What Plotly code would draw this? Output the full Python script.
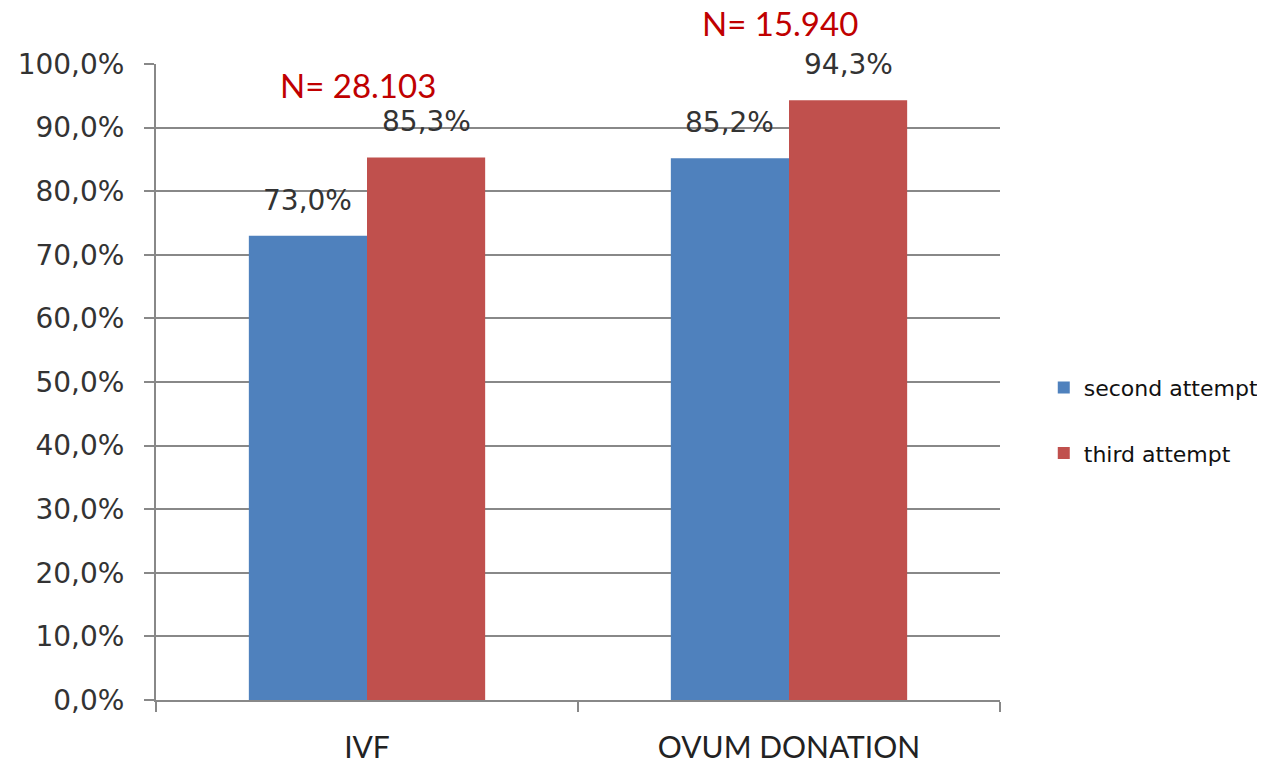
import plotly.graph_objects as go

categories = ["IVF", "OVUM DONATION"]
second_attempt = [73.0, 85.2]
third_attempt = [85.3, 94.3]
second_labels = ["73,0%", "85,2%"]
third_labels = ["85,3%", "94,3%"]
n_labels = ["N= 28.103", "N= 15.940"]
n_label_y = [96.7, 106.5]
y_ticks = [0, 10, 20, 30, 40, 50, 60, 70, 80, 90, 100]
y_tick_labels = ["0,0%", "10,0%", "20,0%", "30,0%", "40,0%", "50,0%",
                 "60,0%", "70,0%", "80,0%", "90,0%", "100,0%"]

# page body has an 8px default margin
W, H = 1257, 760
ML, MR, MT, MB = 148, 265, 56, 68
BARGAP = 0.44
plot_w = W - ML - MR
bar_offset = plot_w / len(categories) * (1 - BARGAP) / 4
Y_MAX = 100

fig = go.Figure()
fig.add_trace(go.Bar(
    name="second attempt", x=categories, y=second_attempt,
    marker=dict(color="#4F81BD", line=dict(width=0)),
    legendgroup="a", hoverinfo="x+y",
))
fig.add_trace(go.Bar(
    name="third attempt", x=categories, y=third_attempt,
    marker=dict(color="#C0504D", line=dict(width=0)),
    legendgroup="b", hoverinfo="x+y",
))

label_font = dict(family="DejaVu Sans", size=28, color="#333333")
for cat, v, lab in zip(categories, second_attempt, second_labels):
    fig.add_annotation(x=cat, y=v, xref="x", yref="y", text=lab,
                       showarrow=False, yanchor="bottom", xshift=-bar_offset,
                       yshift=17, font=label_font)
for cat, v, lab in zip(categories, third_attempt, third_labels):
    fig.add_annotation(x=cat, y=v, xref="x", yref="y", text=lab,
                       showarrow=False, yanchor="bottom", xshift=bar_offset,
                       yshift=17, font=label_font)

for cat, lab, yy in zip(categories, n_labels, n_label_y):
    fig.add_annotation(x=cat, y=yy / Y_MAX, xref="x", yref="paper", text=lab,
                       showarrow=False, xshift=-9, yanchor="middle",
                       borderpad=0,
                       font=dict(family="Lato", size=33, color="#C00000"))

fig.update_layout(
    width=W, height=H,
    margin=dict(l=ML, r=MR, t=MT, b=MB),
    paper_bgcolor="white", plot_bgcolor="white",
    barmode="group", bargap=BARGAP, bargroupgap=0,
    showlegend=True,
    legend=dict(xref="container", yref="container", x=0.824, y=0.457,
                xanchor="left", yanchor="middle",
                font=dict(family="DejaVu Sans", size=22, color="#111111"),
                tracegroupgap=34, itemsizing="constant"),
)
fig.update_xaxes(
    type="category", showline=True, linecolor="#888888", linewidth=2,
    ticks="outside", tickson="boundaries", ticklen=10, tickcolor="#888888",
    tickwidth=2, showgrid=False, automargin=False, ticklabelstandoff=20,
    tickfont=dict(family="Lato", size=30, color="#222222"),
)
fig.update_yaxes(
    range=[0, Y_MAX], tickvals=y_ticks, ticktext=y_tick_labels,
    showline=True, linecolor="#888888", linewidth=2,
    ticks="outside", ticklen=10, tickcolor="#888888", tickwidth=2,
    showgrid=True, gridcolor="#888888", gridwidth=2, zeroline=False,
    automargin=False, ticklabelstandoff=14,
    tickfont=dict(family="DejaVu Sans", size=28, color="#333333"),
)

fig.write_html("out.html")
